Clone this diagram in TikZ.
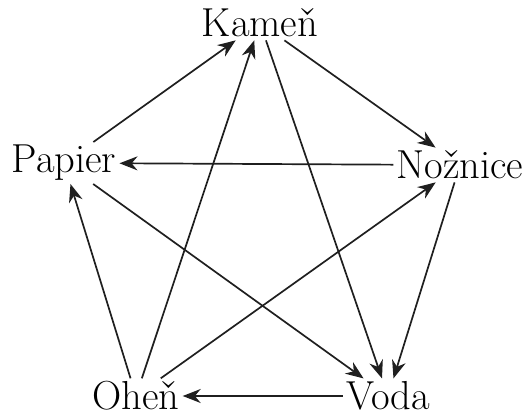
\documentclass[tikz,border=0pt]{standalone}
\usetikzlibrary{arrows.meta}
\begin{document}
\begin{tikzpicture}[x=1pt,y=1pt,
  lbl/.style={font=\fontsize{40.5}{48}\selectfont, inner sep=3pt},
  arr/.style={-{Stealth[length=18pt,width=14pt]}, line width=1.7pt, color=black!88}]
\useasboundingbox (0,0) rectangle (524,418);
\node[lbl] (K) at (260,395) {Kameň};
\node[lbl] (N) at (460,253) {Nožnice};
\node[lbl] (P) at (64,255) {Papier};
\node[lbl] (O) at (136,22) {Oheň};
\node[lbl] (V) at (388,22) {Voda};
\draw[arr] (P) -- (K);
\draw[arr] (O) -- (K);
\draw[arr] (K) -- (V);
\draw[arr] (K) -- (N);
\draw[arr] (N) -- (P);
\draw[arr] (N) -- (V);
\draw[arr] (P) -- (V);
\draw[arr] (O) -- (P);
\draw[arr] (O) -- (N);
\draw[arr] (V) -- (O);
\end{tikzpicture}
\end{document}
